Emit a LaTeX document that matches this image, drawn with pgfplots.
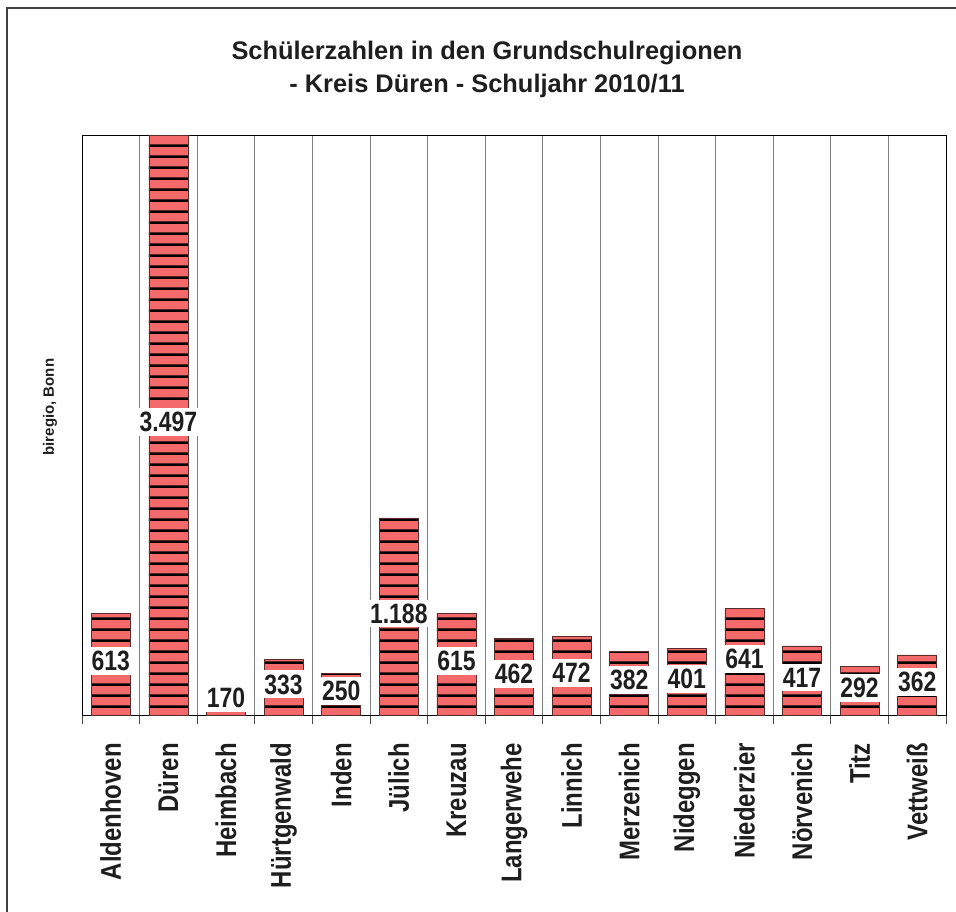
\documentclass[border=0pt]{standalone}
\usepackage{fontspec}
\setmainfont{Liberation Sans}
\newfontfamily\narrowfont[FakeStretch=0.82]{Liberation Sans}
\newfontfamily\ticklabfont[FakeStretch=0.84]{Liberation Sans}
\usepackage{pgfplots}
\usepackage{pgfplotstable}
\pgfplotsset{compat=1.18}
\usetikzlibrary{patterns.meta}
\definecolor{barfill}{RGB}{244,106,106}
\definecolor{bardraw}{RGB}{90,45,45}
\definecolor{txt}{RGB}{30,30,30}
\pgfdeclarepattern{
  name=hstripes,
  type=uncolored,
  bottom left={\pgfpoint{0pt}{0pt}},
  top right={\pgfpoint{10pt}{10.7pt}},
  tile size={\pgfpoint{10pt}{10.7pt}},
  code={
    \pgfpathrectangle{\pgfpoint{-1pt}{0pt}}{\pgfpoint{12pt}{2.7pt}}
    \pgfusepath{fill}
  }
}
\pgfplotstableread{
x n lab
1 613 613
2 3497 3.497
3 170 170
4 333 333
5 250 250
6 1188 1.188
7 615 615
8 462 462
9 472 472
10 382 382
11 401 401
12 641 641
13 417 417
14 292 292
15 362 362
}\data
\begin{document}
\begin{tikzpicture}
\useasboundingbox (0,0) rectangle (956pt,-911pt);
\draw[line width=1.5pt, black!75] (7pt,-930pt) -- (7pt,-8pt) -- (980pt,-8pt);
\node[align=center, font=\bfseries\fontsize{25.4}{33}\selectfont, text=txt, anchor=north, inner sep=0pt] at (487pt,-41pt)
  {Schülerzahlen in den Grundschulregionen\\- Kreis Düren - Schuljahr 2010/11};
\node[rotate=90, font=\bfseries\fontsize{15}{18}\selectfont, text=txt, inner sep=0pt] at (50pt,-407pt) {biregio, Bonn};
\begin{axis}[
  at={(82pt,-715pt)}, anchor=south west,
  scale only axis, width=864pt, height=580pt,
  xmin=0.5, xmax=15.5, ymin=0, ymax=3497,
  ytick=\empty,
  xtick={0.5,1.5,...,15.5},
  xticklabels={},
  xmajorgrids,
  major x grid style={gray, line width=1pt},
  x tick style={gray!60!black, line width=1pt},
  tick align=outside,
  xtick pos=lower,
  major tick length=9pt,
  extra x ticks={1,...,15},
  extra x tick labels={Aldenhoven,Düren,Heimbach,Hürtgenwald,Inden,Jülich,Kreuzau,Langerwehe,Linnich,Merzenich,Nideggen,Niederzier,Nörvenich,Titz,Vettweiß},
  extra x tick style={major tick length=0pt, grid=none,
    xticklabel shift=28pt,
    xticklabel style={rotate=90, anchor=east, inner sep=0pt, text=txt,
      font=\ticklabfont\bfseries\fontsize{28.5}{30}\selectfont}},
  axis line style={black, line width=1pt},
  clip=false,
]
\addplot[ybar, bar width=39pt, fill=barfill, draw=bardraw, line width=0.6pt,
  postaction={pattern=hstripes, pattern color=black}]
  table[x=x, y=n] {\data};
\addplot[draw=none, mark=none, nodes near coords, point meta=explicit symbolic,
  nodes near coords align={center},
  every node near coord/.append style={anchor=center, fill=white, inner xsep=1.5pt, inner ysep=4pt,
    yshift=3pt, text=txt, font=\narrowfont\bfseries\fontsize{28}{30}\selectfont}]
  table[x=x, y expr=\thisrow{n}/2, meta=lab] {\data};
\end{axis}
\end{tikzpicture}
\end{document}
